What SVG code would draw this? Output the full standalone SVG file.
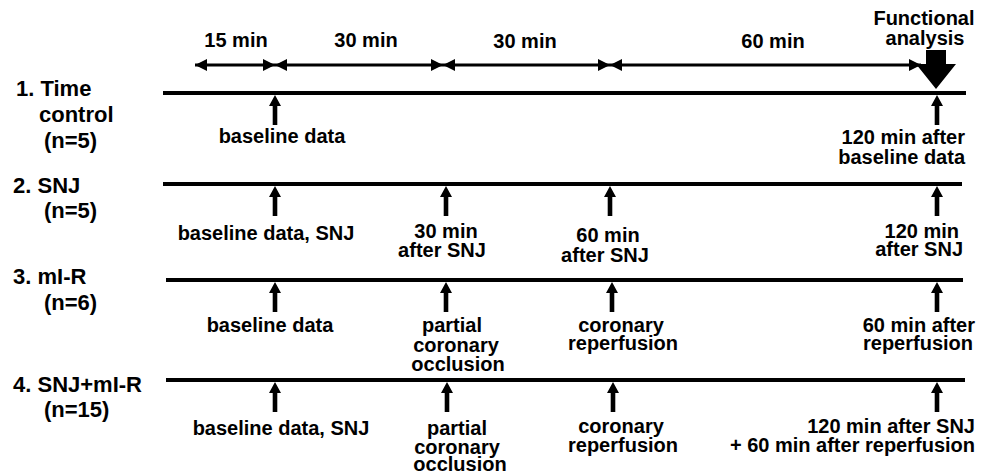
<svg xmlns="http://www.w3.org/2000/svg" xmlns:xlink="http://www.w3.org/1999/xlink" width="992" height="475" viewBox="0 0 992 475">
<style>
text{font-family:"Liberation Sans",Arial,Helvetica,sans-serif;font-weight:bold;fill:#000;}
.a{font-size:20px;}
.g{font-size:22px;}
.m{text-anchor:middle;}
.e{text-anchor:end;}
.tl{stroke:#000;stroke-width:4;fill:none;}
.dur{stroke:#000;stroke-width:3;fill:none;marker-start:url(#ah);marker-end:url(#ah);}
</style>
<defs>
<marker id="ah" viewBox="0 0 12 12" refX="12" refY="6" markerWidth="4.2" markerHeight="4" orient="auto-start-reverse">
<path d="M0,0 L12,6 L0,12 z" fill="#000"/>
</marker>
<path id="up" d="M0,0 L6,11 L2.3,11 L2.3,30 L-2.3,30 L-2.3,11 L-6,11 Z" fill="#000"/>
</defs>
<rect width="992" height="475" fill="#fff"/>

<g id="durations">
<line class="dur" x1="195" y1="65" x2="275" y2="65"/>
<line class="dur" x1="275" y1="65" x2="443" y2="65"/>
<line class="dur" x1="443" y1="65" x2="610" y2="65"/>
<line class="dur" x1="610" y1="65" x2="921" y2="65"/>
<text class="a m" x="236" y="47">15 min</text>
<text class="a m" x="366" y="47">30 min</text>
<text class="a m" x="525" y="48">30 min</text>
<text class="a m" x="773" y="48">60 min</text>
</g>

<g id="functional">
<text class="a m" x="924" y="25">Functional</text>
<text class="a m" x="925" y="45">analysis</text>
<path d="M926,50 L946,50 L946,64 L956,64 L936,89 L916,64 L926,64 Z" fill="#000"/>
</g>

<g id="row1">
<text class="g" x="16" y="96">1. Time</text>
<text class="g" x="39" y="122">control</text>
<text class="g" x="44" y="148">(n=5)</text>
<line class="tl" x1="163" y1="93" x2="966" y2="93"/>
<text class="a m" x="282" y="143">baseline data</text>
<text class="a e" x="965" y="144">120 min after</text>
<text class="a e" x="965" y="164">baseline data</text>
</g>

<g id="row2">
<text class="g" x="13" y="193">2. SNJ</text>
<text class="g" x="44" y="218">(n=5)</text>
<line class="tl" x1="163" y1="184" x2="962" y2="184"/>
<text class="a m" x="266" y="240">baseline data, SNJ</text>
<text class="a m" x="446" y="238">30 min</text>
<text class="a m" x="442" y="257">after SNJ</text>
<text class="a m" x="608" y="242">60 min</text>
<text class="a m" x="605" y="262">after SNJ</text>
<text class="a e" x="959" y="238">120 min</text>
<text class="a e" x="963" y="256">after SNJ</text>
</g>

<g id="row3">
<text class="g" x="13" y="284">3. mI-R</text>
<text class="g" x="44" y="310">(n=6)</text>
<line class="tl" x1="166" y1="280" x2="963" y2="280"/>
<text class="a m" x="270" y="332">baseline data</text>
<text class="a m" x="452" y="332">partial</text>
<text class="a m" x="456" y="352">coronary</text>
<text class="a m" x="458" y="371">occlusion</text>
<text class="a m" x="621" y="332">coronary</text>
<text class="a m" x="623" y="350">reperfusion</text>
<text class="a e" x="975" y="332">60 min after</text>
<text class="a e" x="973" y="350">reperfusion</text>
</g>

<g id="row4">
<text class="g" x="13" y="392">4. SNJ+mI-R</text>
<text class="g" x="44" y="417">(n=15)</text>
<line class="tl" x1="166" y1="380" x2="965" y2="380"/>
<text class="a m" x="281" y="435">baseline data, SNJ</text>
<text class="a m" x="457" y="435">partial</text>
<text class="a m" x="457" y="454">coronary</text>
<text class="a m" x="460" y="471">occlusion</text>
<text class="a m" x="621" y="433">coronary</text>
<text class="a m" x="623" y="452">reperfusion</text>
<text class="a e" x="975" y="433">120 min after SNJ</text>
<text class="a e" x="975" y="452">+ 60 min after reperfusion</text>
</g>

<g id="connectors">
<use xlink:href="#up" x="275" y="95"/>
<use xlink:href="#up" x="937" y="95"/>
<use xlink:href="#up" x="275" y="186"/>
<use xlink:href="#up" x="446" y="186"/>
<use xlink:href="#up" x="610" y="186"/>
<use xlink:href="#up" x="937" y="186"/>
<use xlink:href="#up" x="275" y="282"/>
<use xlink:href="#up" x="446" y="282"/>
<use xlink:href="#up" x="612" y="282"/>
<use xlink:href="#up" x="937" y="282"/>
<use xlink:href="#up" x="275" y="382"/>
<use xlink:href="#up" x="447" y="382"/>
<use xlink:href="#up" x="613" y="382"/>
<use xlink:href="#up" x="937" y="382"/>
</g>
</svg>
